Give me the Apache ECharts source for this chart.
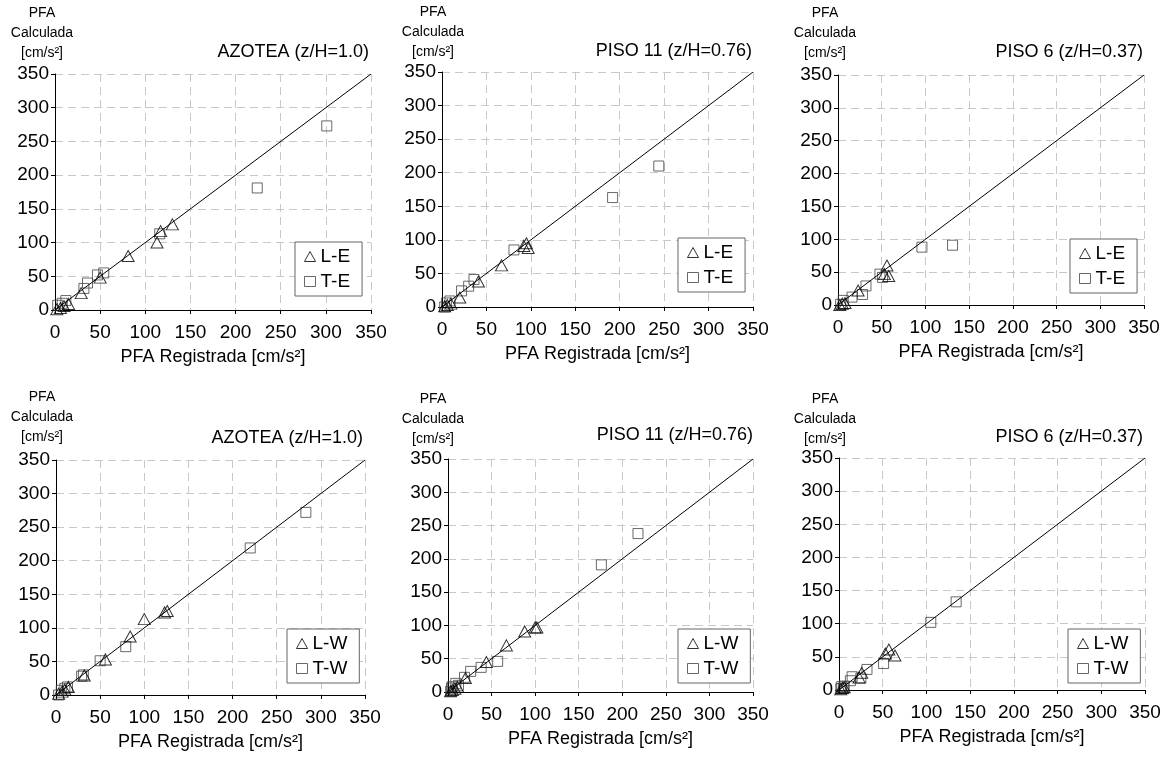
<!DOCTYPE html>
<html><head><meta charset="utf-8">
<script src="https://cdn.jsdelivr.net/npm/echarts@6/dist/echarts.min.js"></script>
<style>html,body{margin:0;padding:0;background:#fff}#c{width:1165px;height:757px}</style>
</head><body><div id="c"></div><script>
// ---- data ----
const panelTitles = ['AZOTEA (z/H=1.0)', 'PISO 11 (z/H=0.76)', 'PISO 6 (z/H=0.37)',
                     'AZOTEA (z/H=1.0)', 'PISO 11 (z/H=0.76)', 'PISO 6 (z/H=0.37)'];
const seriesNames = [['L-E', 'T-E'], ['L-E', 'T-E'], ['L-E', 'T-E'],
                     ['L-W', 'T-W'], ['L-W', 'T-W'], ['L-W', 'T-W']];
const axisMin = 0, axisMax = 350, axisStep = 50;
const xAxisName = 'PFA Registrada [cm/s²]';
const yAxisName = 'PFA\nCalculada\n[cm/s²]';
const identityLine = [[0, 0], [350, 350]];

const azoteaLE = [[2,1],[6,3],[10,6],[15,9],[29,25],[50,48],[81,80],[113,100],[117,117],[130,127]];
const azoteaTE = [[3,7],[8,10],[12,14],[32,32],[36,40],[47,52],[54,55],[116,113],[224,181],[301,273]];
const piso11LE = [[3,1],[6,3],[10,5],[20,14],[41,38],[67,62],[92,91],[95,95],[97,88]];
const piso11TE = [[3,0],[5,6],[9,9],[22,24],[30,31],[36,41],[81,85],[192,163],[244,210]];
const piso6LE  = [[2,0],[5,2],[8,3],[23,22],[53,47],[56,60],[58,44]];
const piso6TE  = [[3,1],[6,7],[16,12],[28,16],[32,29],[48,47],[51,42],[96,88],[131,91]];
const azoteaLW = [[3,2],[7,5],[10,8],[14,12],[32,29],[56,53],[84,87],[100,113],[123,123],[126,125]];
const azoteaTW = [[3,0],[6,7],[10,10],[13,12],[29,28],[31,30],[50,51],[79,72],[220,219],[283,272]];
const piso11LW = [[3,1],[5,3],[8,5],[11,8],[20,21],[44,45],[67,70],[88,91],[100,97],[102,97]];
const piso11TW = [[3,1],[4,6],[5,8],[9,13],[12,10],[19,22],[26,31],[38,37],[57,46],[176,191],[218,238]];
const piso6LW  = [[2,1],[4,3],[6,4],[23,19],[26,26],[53,55],[57,61],[64,52]];
const piso6TW  = [[2,2],[3,5],[5,3],[6,6],[13,14],[15,20],[25,18],[32,31],[51,40],[105,102],[134,133]];

const triData = [azoteaLE, piso11LE, piso6LE, azoteaLW, piso11LW, piso6LW];
const sqData  = [azoteaTE, piso11TE, piso6TE, azoteaTW, piso11TW, piso6TW];

// ---- layout ----
const grids = [
  {left: 55,  top: 74,  width: 316, height: 236},
  {left: 442, top: 72,  width: 311, height: 235},
  {left: 838, top: 75,  width: 306, height: 230},
  {left: 56,  top: 460, width: 309, height: 235},
  {left: 448, top: 459, width: 305, height: 233},
  {left: 839, top: 458, width: 306, height: 232}
];
const titlePos = [{right: 796, top: 43}, {right: 413, top: 42}, {right: 22, top: 43},
                  {right: 802, top: 429}, {right: 412, top: 426}, {right: 22, top: 428}];
const yNamePos = [[42, 33], [433, 32], [825, 33], [42, 417], [433, 419], [825, 419]];
const legendPos = [[295, 242], [678, 238], [1070, 239], [287, 629], [678, 629], [1068, 629]];

const FONT = '"Liberation Sans", Arial, sans-serif';
const opt = {
  backgroundColor: '#fff',
  animation: false,
  grid: grids.map(g => Object.assign({containLabel: false}, g)),
  title: panelTitles.map((t, i) => ({
    text: t, right: titlePos[i].right, top: titlePos[i].top, padding: 0,
    textStyle: {fontSize: 18, fontWeight: 'normal', color: '#000', fontFamily: FONT}
  })),
  graphic: yNamePos.map(p => ({
    type: 'text', x: p[0], y: p[1],
    style: {text: yAxisName, fill: '#000', font: '14px ' + FONT, textAlign: 'center',
            textVerticalAlign: 'middle', lineHeight: 20}
  })),
  legend: seriesNames.map((n, i) => ({
    orient: 'vertical', left: legendPos[i][0], top: legendPos[i][1],
    padding: [5, 12, 5, 9], itemGap: 6, itemWidth: 11, itemHeight: 10,
    borderColor: '#666', borderWidth: 1, backgroundColor: '#fff',
    textStyle: {fontSize: 19, color: '#000', fontFamily: FONT},
    data: [
      {name: n[0], icon: 'triangle', itemStyle: {color: 'transparent', borderColor: '#000', borderWidth: 1}},
      {name: n[1], icon: 'rect', itemStyle: {color: 'transparent', borderColor: '#444', borderWidth: 1}}
    ]
  })),
  xAxis: grids.map((g, i) => ({
    type: 'value', gridIndex: i, min: axisMin, max: axisMax, interval: axisStep,
    name: xAxisName, nameLocation: 'middle', nameGap: 38,
    nameTextStyle: {fontSize: 18, color: '#000', fontFamily: FONT},
    axisLine: {show: true, onZero: false, lineStyle: {color: '#000', width: 1}},
    axisTick: {show: true, length: 4, inside: false, lineStyle: {color: '#000'}},
    axisLabel: {fontSize: 19, color: '#000', margin: 13, fontFamily: FONT},
    splitLine: {show: true, lineStyle: {color: '#c8c8c8', type: [8, 5], width: 1}}
  })),
  yAxis: grids.map((g, i) => ({
    type: 'value', gridIndex: i, min: axisMin, max: axisMax, interval: axisStep,
    axisLine: {show: true, onZero: false, lineStyle: {color: '#000', width: 1}},
    axisTick: {show: true, length: 4, inside: false, lineStyle: {color: '#000'}},
    axisLabel: {fontSize: 19, color: '#000', margin: 6, fontFamily: FONT},
    splitLine: {show: true, lineStyle: {color: '#c8c8c8', type: [8, 5], width: 1}}
  })),
  series: []
};
for (let i = 0; i < 6; i++) {
  opt.series.push({
    type: 'scatter', name: seriesNames[i][1], xAxisIndex: i, yAxisIndex: i, data: sqData[i],
    symbol: 'rect', symbolSize: 10, z: 3,
    itemStyle: {color: 'transparent', borderColor: '#444', borderWidth: 1}
  });
  opt.series.push({
    type: 'scatter', name: seriesNames[i][0], xAxisIndex: i, yAxisIndex: i, data: triData[i],
    symbol: 'triangle', symbolSize: [12, 11], z: 3,
    itemStyle: {color: 'transparent', borderColor: '#000', borderWidth: 1}
  });
  opt.series.push({
    type: 'line', name: 'identity', xAxisIndex: i, yAxisIndex: i, data: identityLine,
    symbol: 'none', z: 4, silent: true,
    lineStyle: {color: '#000', width: 1}
  });
}
const chart = echarts.init(document.getElementById('c'), null, {renderer: 'canvas'});
chart.setOption(opt);
</script></body></html>
